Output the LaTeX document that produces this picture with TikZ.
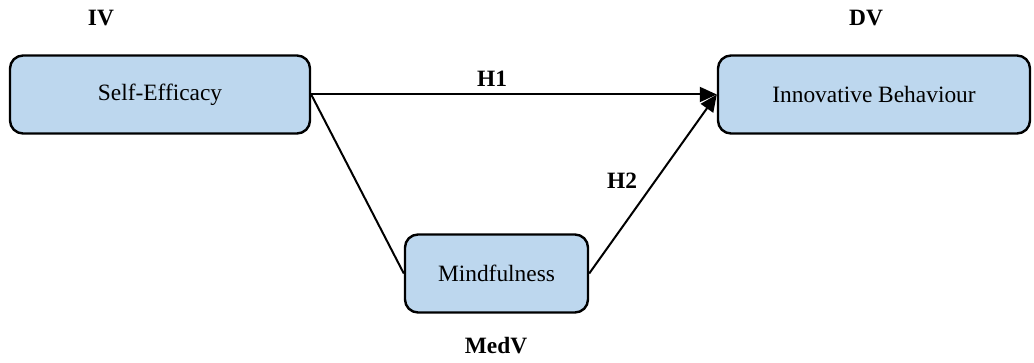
\documentclass[tikz,border=0pt]{standalone}
\usepackage{fontspec}
\setmainfont{Liberation Serif}
\usetikzlibrary{arrows.meta}
\definecolor{boxblue}{HTML}{BDD7EE}
\begin{document}
\begin{tikzpicture}[x=1pt,y=-1pt,
  varbox/.style={draw=black, line width=2.4pt, fill=boxblue, rounded corners=13pt,
    minimum height=78pt, inner sep=0pt, font=\fontsize{23.4}{28}\selectfont},
  lbl/.style={font=\fontsize{23.4}{28}\selectfont\bfseries, inner sep=0pt},
  conn/.style={draw=black, line width=2pt},
  arr/.style={conn, -{Triangle[length=17pt,width=15pt]}}]
\useasboundingbox (0,0) rectangle (1034,363);
\node[varbox, minimum width=300pt] (se) at (160,94.5) {Self-Efficacy};
\node[varbox, minimum width=312pt] (ib) at (874,94.5) {Innovative Behaviour};
\node[varbox, minimum width=183pt] (mf) at (496.5,273.5) {Mindfulness};
\node[lbl] (iv) at (101,18) {IV};
\node[lbl] (dv) at (866,18) {DV};
\node[lbl] (h1) at (492,79) {H1};
\node[lbl] (h2) at (622,181) {H2};
\node[lbl] (medv) at (496,346) {MedV};
\draw[arr] (se.east) -- (ib.west);
\draw[conn] (se.east) -- (mf.west);
\draw[arr] (mf.east) -- (ib.west);
\end{tikzpicture}
\end{document}
